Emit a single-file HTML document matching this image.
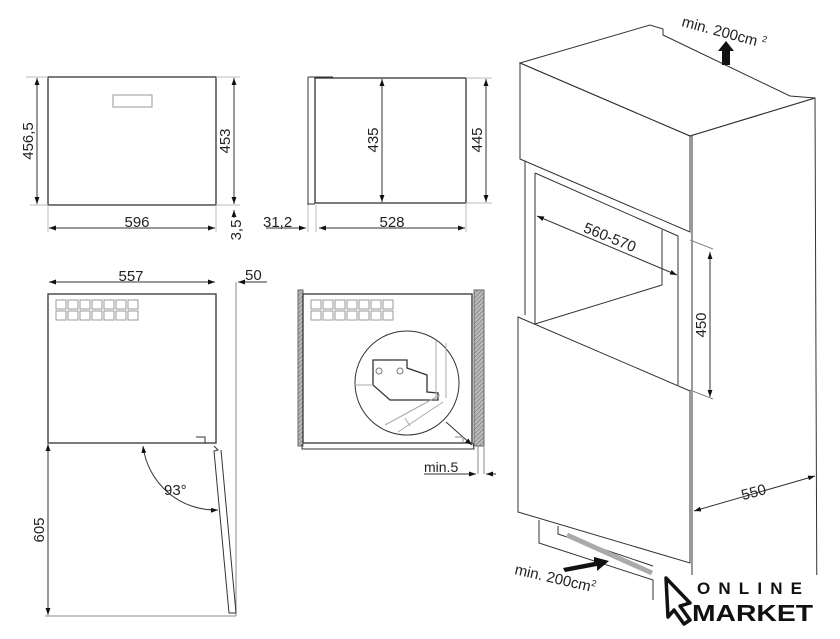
<!DOCTYPE html>
<html><head><meta charset="utf-8"><style>
html,body{margin:0;padding:0;background:#fff;}
svg{display:block;font-family:"Liberation Sans",sans-serif;}
</style></head><body>
<svg width="840" height="639" viewBox="0 0 840 639" xmlns="http://www.w3.org/2000/svg">
<defs>
<marker id="a" viewBox="0 0 10 10" refX="10" refY="5" markerWidth="7" markerHeight="7" orient="auto-start-reverse"><path d="M0,1.5 L10,5 L0,8.5 z" fill="#111"/></marker>
<pattern id="h" width="3" height="3" patternUnits="userSpaceOnUse" patternTransform="rotate(45)"><rect width="3" height="3" fill="#bbb"/><line x1="0" y1="0" x2="0" y2="3" stroke="#666" stroke-width="1"/></pattern>
</defs>
<g fill="none" stroke="#333" stroke-width="1">
<!-- front view -->
<rect x="48" y="77" width="168" height="128" stroke-width="1.3"/>
<rect x="113" y="95" width="39" height="12" stroke="#999"/>
<line x1="26" y1="77" x2="48" y2="77" stroke="#bbb"/><line x1="30" y1="205" x2="48" y2="205" stroke="#bbb"/>
<line x1="216" y1="77" x2="240" y2="77" stroke="#bbb"/><line x1="216" y1="205" x2="240" y2="205" stroke="#bbb"/>
<line x1="37" y1="78" x2="37" y2="204" marker-start="url(#a)" marker-end="url(#a)"/>
<line x1="234" y1="78" x2="234" y2="204" marker-start="url(#a)" marker-end="url(#a)"/>
<line x1="49" y1="228" x2="215" y2="228" marker-start="url(#a)" marker-end="url(#a)"/>
<line x1="48" y1="205" x2="48" y2="232" stroke="#bbb"/><line x1="216" y1="205" x2="216" y2="232" stroke="#bbb"/>
<line x1="234" y1="218" x2="234" y2="210" marker-end="url(#a)"/>
<!-- side view -->
<rect x="315" y="78" width="151" height="125" stroke-width="1.3"/>
<line x1="308" y1="77" x2="308" y2="205"/><line x1="308" y1="77" x2="333" y2="77"/><line x1="308" y1="204" x2="315" y2="204"/>
<line x1="466" y1="78" x2="492" y2="78" stroke="#bbb"/><line x1="466" y1="203" x2="492" y2="203" stroke="#bbb"/>
<line x1="382" y1="79" x2="382" y2="202" marker-start="url(#a)" marker-end="url(#a)"/>
<line x1="486" y1="79" x2="486" y2="202" marker-start="url(#a)" marker-end="url(#a)"/>
<line x1="319" y1="228" x2="465" y2="228" marker-start="url(#a)" marker-end="url(#a)"/>
<line x1="266" y1="228" x2="306" y2="228" marker-end="url(#a)"/>
<line x1="308" y1="205" x2="308" y2="232" stroke="#bbb"/><line x1="316" y1="205" x2="316" y2="232" stroke="#bbb"/><line x1="466" y1="203" x2="466" y2="232" stroke="#bbb"/>
<!-- top view left -->
<line x1="49" y1="282" x2="215" y2="282" marker-start="url(#a)" marker-end="url(#a)"/>
<line x1="267" y1="282" x2="238" y2="282" marker-end="url(#a)"/>
<line x1="236" y1="282" x2="236" y2="616" stroke="#888"/>
<rect x="48" y="294" width="168" height="149" stroke-width="1.3"/>
<path d="M196,437 h9 v6 M214,446 l4,4 l-4,1 l15,162 l7,0 l-15,-163"/>
<line x1="48" y1="444" x2="48" y2="615" marker-start="url(#a)" marker-end="url(#a)"/>
<line x1="45" y1="616" x2="236" y2="616" stroke="#888"/>
<path d="M143,446 A73,73 0 0 0 218,510" marker-start="url(#a)" marker-end="url(#a)"/>
<!-- top view right -->
<rect x="298" y="290" width="5" height="156" fill="url(#h)" stroke="#666"/>
<rect x="474" y="290" width="10" height="156" fill="url(#h)" stroke="#666"/>
<rect x="303" y="294" width="169" height="149" stroke-width="1.3"/>
<path d="M302,444 v5 h172 l-1,-6"/>
<path d="M478,446 v28 M484,446 v28" stroke="#888"/>
<circle cx="407" cy="383" r="52"/>
<path d="M373,360 h34 v8 l20,7 v17 l11,1 v7 h-48 l-17,-15 z" stroke-width="1.3"/>
<circle cx="379" cy="371" r="3" stroke="#777"/><circle cx="400" cy="371" r="3" stroke="#777"/>
<path d="M436,340 v60 M446,343 v55 M355,385 h18 M385,425 l55,-30 M398,432 l45,-30 M405,418 l5,8" stroke="#aaa"/>
<line x1="446" y1="422" x2="472" y2="445" marker-end="url(#a)"/>
<path d="M455,437 h8 v6" stroke="#888"/>
<line x1="424" y1="474" x2="476" y2="474" marker-end="url(#a)"/>
<line x1="496" y1="474" x2="486" y2="474" marker-end="url(#a)"/>
<!-- 3D cabinet -->
<path d="M520,63 L650,25 L663,29 L663,35 L790,96 L815,98 L690,136 Z"/>
<path d="M520,63 L690,136 L690,232 L520,159 Z"/>
<path d="M690,136 L815,98 L817,639 M692,136 L692,639"/>
<path d="M525,161 L525,315 M535,173 L535,324 M535,173 L678,236 L678,385 M535,324 L662,285 M662,230 L662,285"/>
<path d="M518,317 L690,391 L690,563 L518,512 Z" fill="#fff"/>
<path d="M539,520 L539,543 L653,580 L653,600 M558,526 L558,534 L653,566"/>
<path d="M567,535 L652,573" stroke="#aaa" stroke-width="5"/>
<line x1="537" y1="216" x2="677" y2="275" marker-start="url(#a)" marker-end="url(#a)"/>
<line x1="710" y1="252" x2="710" y2="397" marker-start="url(#a)" marker-end="url(#a)"/>
<path d="M690,240 L713,249 M690,390 L713,399" stroke="#888"/>
<line x1="694" y1="511" x2="815" y2="476" marker-start="url(#a)" marker-end="url(#a)"/>
</g>
<path d="M722,65 h8 v-14 h4 l-8,-10 l-8,10 h4 z" fill="#111"/>
<path d="M563,568 l31,-6 v-5 l15,4 l-12,10 v-5 l-32,6 z" fill="#111"/>
<g fill="#222" font-size="15">
<text x="137" y="227" text-anchor="middle">596</text>
<text transform="translate(33,141) rotate(-90)" text-anchor="middle">456,5</text>
<text transform="translate(230,141) rotate(-90)" text-anchor="middle">453</text>
<text transform="translate(241,230) rotate(-90)" text-anchor="middle">3,5</text>
<text transform="translate(378,140) rotate(-90)" text-anchor="middle">435</text>
<text transform="translate(482,140) rotate(-90)" text-anchor="middle">445</text>
<text x="392" y="227" text-anchor="middle">528</text>
<text x="263" y="227">31,2</text>
<text x="131" y="281" text-anchor="middle">557</text>
<text x="245" y="280">50</text>
<text transform="translate(44,530) rotate(-90)" text-anchor="middle">605</text>
<text x="164" y="495">93°</text>
<text x="424" y="472" font-size="14">min.5</text>
<text transform="translate(608,242) rotate(22)" text-anchor="middle">560-570</text>
<text transform="translate(706,325) rotate(-90)" text-anchor="middle">450</text>
<text transform="translate(755,497) rotate(-15)" text-anchor="middle">550</text>
<text transform="translate(681,26) rotate(15)">min. 200cm <tspan font-size="9" dy="-6">2</tspan></text>
<text transform="translate(514,574) rotate(13)">min. 200cm<tspan font-size="9" dy="-6">2</tspan></text>
</g>
<!-- logo -->
<rect x="660" y="575" width="180" height="64" fill="#fff"/>
<path d="M666,578 L690,603 L680,606 L690,620 L684,624 L674,610 L668,617 Z" fill="none" stroke="#111" stroke-width="3.5" stroke-linejoin="round"/>
<text x="697" y="594" font-size="17" font-weight="bold" fill="#111" textLength="115" letter-spacing="10">ONLINE</text>
<text x="692" y="621" font-size="23" font-weight="bold" fill="#111" textLength="121" lengthAdjust="spacingAndGlyphs">MARKET</text>
<g fill="none" stroke="#999">
<g id="vr"><rect x="56" y="300" width="10" height="9"/><rect x="68" y="300" width="10" height="9"/><rect x="80" y="300" width="10" height="9"/><rect x="92" y="300" width="10" height="9"/><rect x="104" y="300" width="10" height="9"/><rect x="116" y="300" width="10" height="9"/><rect x="128" y="300" width="10" height="9"/></g>
<use href="#vr" y="11"/>
<use href="#vr" x="255"/>
<use href="#vr" x="255" y="11"/>
</g>
</svg>
</body></html>
